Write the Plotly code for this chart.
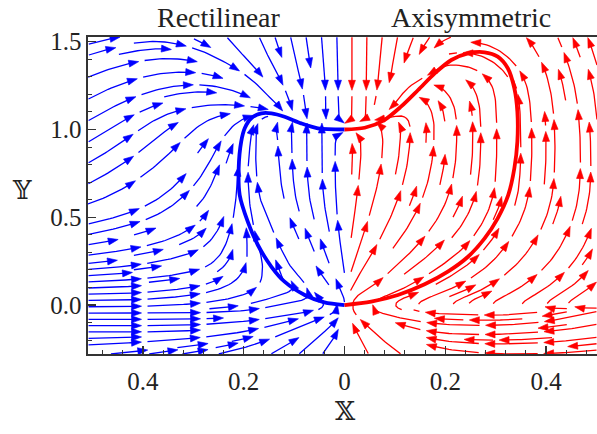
import math
from bisect import bisect_right
import numpy as np
import plotly.graph_objects as go

# ---------------- values ----------------
# |x| and y sample positions of the direction field
X_GRID = [0.0, 0.04, 0.1, 0.16, 0.22, 0.3, 0.4, 0.51]
Y_GRID = [-0.28, -0.15, -0.05, 0.05, 0.15, 0.3, 0.5, 0.7, 0.9, 1.0, 1.1, 1.2, 1.35, 1.53]

# drawn direction of the streamlines (degrees, counter-clockwise from "right"),
# one row per Y_GRID value, columns follow X_GRID (from the axis outwards)
RECT_ANGLES = [
    [80, 55, 40, 25, 15, 10, 8, 3],
    [75, 40, 25, 15, 8, 3, 0, 0],
    [60, 15, 8, 5, 2, 0, 0, 0],
    [110, 150, 10, 20, 15, 8, 3, 0],
    [100, 125, 135, 80, 40, 10, 5, 2],
    [95, 110, 120, 110, 75, 20, 10, 7],
    [92, 101, 110, 115, 80, 40, 20, 13],
    [90, 92, 95, 100, 85, 50, 35, 27],
    [90, 90, 90, 95, 70, 50, 38, 30],
    [0, 90, 90, 100, 50, 40, 35, 30],
    [-90, -90, -80, 0, 5, 12, 25, 30],
    [-90, -88, -75, -45, -15, 5, 20, 28],
    [-90, -85, -75, -55, -30, -5, 12, 21],
    [-90, -87, -80, -70, -55, -25, 5, 15],
]
AXI_ANGLES = [
    [95, 115, 140, 160, 172, 178, 182, 185],
    [95, 130, 155, 170, 178, 182, 185, 190],
    [100, 150, 170, 175, 178, 180, 190, 195],
    [75, 20, 20, 20, 20, 25, 30, 32],
    [80, 50, 35, 30, 30, 35, 40, 45],
    [85, 65, 50, 42, 40, 50, 55, 62],
    [90, 75, 65, 60, 60, 65, 70, 75],
    [90, 80, 75, 75, 78, 85, 85, 88],
    [90, 90, 85, 85, 88, 90, 90, 92],
    [180, 120, 90, 90, 90, 90, 92, 95],
    [-90, -90, -150, 110, 100, 92, 95, 95],
    [-90, -90, -110, 150, 120, 100, 100, 100],
    [-90, -90, -100, -125, 175, 140, 110, 105],
    [-90, -90, -100, -120, -165, 160, 115, 110],
]

# thick solution curves
RECT_CURVE_X = [0, -0.040, -0.079, -0.119, -0.145, -0.172, -0.192, -0.208, -0.210,
                -0.205, -0.198, -0.185, -0.165, -0.145, -0.119, -0.086, -0.053, 0]
RECT_CURVE_Y = [0, 0.015, 0.057, 0.133, 0.218, 0.342, 0.475, 0.627, 0.779,
                0.931, 1.007, 1.064, 1.092, 1.092, 1.073, 1.035, 1.007, 1.0]
AXI_CURVE_X = [0, 0.053, 0.106, 0.159, 0.205, 0.245, 0.278, 0.304, 0.325, 0.337, 0.343,
               0.343, 0.337, 0.324, 0.304, 0.278, 0.245, 0.212, 0.179, 0.146, 0.112,
               0.079, 0.040, 0]
AXI_CURVE_Y = [0, 0.019, 0.057, 0.118, 0.190, 0.275, 0.380, 0.494, 0.627, 0.779, 0.931,
               1.102, 1.235, 1.349, 1.415, 1.440, 1.434, 1.396, 1.320, 1.225, 1.130,
               1.054, 1.010, 1.0]

X_TICKS = [-0.4, -0.2, 0, 0.2, 0.4]
X_TICK_TEXT = ["0.4", "0.2", "0", "0.2", "0.4"]
Y_TICKS = [0, 0.5, 1.0, 1.5]
Y_TICK_TEXT = ["0.0", "0.5", "1.0", "1.5"]
PANEL_TITLES = ["Rectilinear", "Axisymmetric"]
X_LABEL = "𝕏"
Y_LABEL = "𝕐"

BLUE = "#0000ff"
RED = "#ff0000"

# ---------------- layout geometry (page margin removed by post_script) ----------------
W, H = 597, 434
ML, MT, MR, MB = 88, 37, 0, 80
PW, PH = W - ML - MR, H - MT - MB
X_RANGE = [-0.509, 0.501]
Y_RANGE = [-0.279, 1.527]

SX = PW / (X_RANGE[1] - X_RANGE[0])
SY = PH / (Y_RANGE[1] - Y_RANGE[0])


def to_px(x, y):
    return ML + (x - X_RANGE[0]) * SX, MT + (Y_RANGE[1] - y) * SY


def to_data(px, py):
    return X_RANGE[0] + (px - ML) / SX, Y_RANGE[1] - (py - MT) / SY


# ---------------- streamline machinery ----------------
STALL = 0.25
STEP = 1.0
MAXLEN = 1400
MINLEN = 18
CELL_W = 15.0
CELL_H_LOW = 6.3     # dense parallel band near the bottom
CELL_H_HIGH = 10.5   # upper region
BAND_TOP = 0.27      # y value where the dense band ends


def make_field(angles):
    U = [[math.cos(math.radians(a)) for a in row] for row in angles]
    V = [[math.sin(math.radians(a)) for a in row] for row in angles]
    nxg, nyg = len(X_GRID), len(Y_GRID)

    def f(px, py):
        x, y = to_data(px, py)
        ax = abs(x)
        i = bisect_right(X_GRID, ax) - 1
        i = 0 if i < 0 else (nxg - 2 if i > nxg - 2 else i)
        j = bisect_right(Y_GRID, y) - 1
        j = 0 if j < 0 else (nyg - 2 if j > nyg - 2 else j)
        tx = (ax - X_GRID[i]) / (X_GRID[i + 1] - X_GRID[i])
        ty = (y - Y_GRID[j]) / (Y_GRID[j + 1] - Y_GRID[j])
        tx = min(max(tx, 0.0), 1.0)
        ty = min(max(ty, 0.0), 1.0)
        a = (1 - tx) * (1 - ty)
        b = tx * (1 - ty)
        c = (1 - tx) * ty
        d = tx * ty
        u = a * U[j][i] + b * U[j][i + 1] + c * U[j + 1][i] + d * U[j + 1][i + 1]
        v = a * V[j][i] + b * V[j][i + 1] + c * V[j + 1][i] + d * V[j + 1][i + 1]
        m = math.hypot(u, v)
        if m < STALL:
            return None
        return u / m, -v / m

    return f


def spiral(nx, ny):
    xfirst, yfirst = 0, 1
    xlast, ylast = nx - 1, ny - 1
    x, y = 0, 0
    direction = "right"
    for _ in range(nx * ny):
        yield x, y
        if direction == "right":
            x += 1
            if x >= xlast:
                xlast -= 1
                direction = "up"
        elif direction == "up":
            y += 1
            if y >= ylast:
                ylast -= 1
                direction = "left"
        elif direction == "left":
            x -= 1
            if x <= xfirst:
                xfirst += 1
                direction = "down"
        else:
            y -= 1
            if y <= yfirst:
                yfirst += 1
                direction = "right"


def row_edges():
    bottom = MT + PH
    band_px = to_px(0, BAND_TOP)[1]
    edges = [bottom]
    y = bottom
    while y - CELL_H_LOW > band_px:
        y -= CELL_H_LOW
        edges.append(y)
    n_hi = max(1, int(round((y - MT) / CELL_H_HIGH)))
    step = (y - MT) / n_hi
    for _ in range(n_hi):
        y -= step
        edges.append(y)
    edges[-1] = MT
    return edges[::-1]  # increasing pixel y


def trace_half(field, x_lo, x_hi):
    y_lo, y_hi = MT, MT + PH
    nx = max(1, int(round((x_hi - x_lo) / CELL_W)))
    cw = (x_hi - x_lo) / nx
    redges = row_edges()
    ny = len(redges) - 1
    mask = [[0] * nx for _ in range(ny)]

    def cell(px, py):
        cj = bisect_right(redges, py) - 1
        cj = 0 if cj < 0 else (ny - 1 if cj > ny - 1 else cj)
        return min(max(int((px - x_lo) / cw), 0), nx - 1), cj

    def inside(px, py):
        return x_lo <= px <= x_hi and y_lo <= py <= y_hi

    lines = []
    for ci, cj in spiral(nx, ny):
        if not (0 <= ci < nx and 0 <= cj < ny) or mask[cj][ci]:
            continue
        px0 = x_lo + (ci + 0.5) * cw
        py0 = 0.5 * (redges[cj] + redges[cj + 1])
        if field(px0, py0) is None:
            continue
        marked = [(ci, cj)]
        mask[cj][ci] = 1
        parts = []
        for sgn in (-1, 1):
            cur = (ci, cj)
            px, py = px0, py0
            pts = [(px, py)]
            prev = None
            length = 0.0
            while length < MAXLEN:
                f1 = field(px, py)
                if f1 is None:
                    break
                if prev is not None and f1[0] * prev[0] + f1[1] * prev[1] < 0.5:
                    break
                mx, my = px + 0.5 * STEP * sgn * f1[0], py + 0.5 * STEP * sgn * f1[1]
                if not inside(mx, my):
                    break
                f2 = field(mx, my)
                if f2 is None:
                    break
                qx, qy = px + STEP * sgn * f2[0], py + STEP * sgn * f2[1]
                if not inside(qx, qy):
                    break
                c = cell(qx, qy)
                if c != cur:
                    if mask[c[1]][c[0]]:
                        break
                    mask[c[1]][c[0]] = 1
                    marked.append(c)
                    cur = c
                px, py = qx, qy
                pts.append((px, py))
                prev = f1
                length += STEP
            parts.append(pts)
        full = parts[0][::-1] + parts[1][1:]
        if (len(full) - 1) * STEP < MINLEN:
            for a, b in marked:
                mask[b][a] = 0
            continue
        lines.append(np.array(full))
    return lines


SEG = 53.0
GAP = 6.0
ARROW_L = 10.0
ARROW_W = 3.5


def dash_with_arrows(lines):
    lx, ly, ax, ay = [], [], [], []
    for pts in lines:
        d = np.hypot(np.diff(pts[:, 0]), np.diff(pts[:, 1]))
        s = np.concatenate([[0.0], np.cumsum(d)])
        total = s[-1]
        start = 0.0
        while start < total - 6:
            end = min(start + SEG, total)
            seg_len = end - start
            inner = s[(s > start) & (s < end)][::3]
            ss = np.concatenate([[start], inner, [end]])
            xs = np.interp(ss, s, pts[:, 0])
            ys = np.interp(ss, s, pts[:, 1])
            if seg_len >= 12:
                bx = np.interp(end - 4, s, pts[:, 0])
                by = np.interp(end - 4, s, pts[:, 1])
                tx, ty = xs[-1], ys[-1]
                dx, dy = tx - bx, ty - by
                n = math.hypot(dx, dy) or 1.0
                dx, dy = dx / n, dy / n
                cx, cy = tx - ARROW_L * dx, ty - ARROW_L * dy
                tri = [(tx, ty), (cx - ARROW_W * dy, cy + ARROW_W * dx),
                       (cx + ARROW_W * dy, cy - ARROW_W * dx), (tx, ty)]
                for qx, qy in tri:
                    X, Y = to_data(qx, qy)
                    ax.append(X)
                    ay.append(Y)
                ax.append(None)
                ay.append(None)
                keep = ss <= end - ARROW_L * 0.6
                xs = np.append(xs[keep], cx + 0.4 * ARROW_L * dx)
                ys = np.append(ys[keep], cy + 0.4 * ARROW_L * dy)
            for qx, qy in zip(xs, ys):
                X, Y = to_data(qx, qy)
                lx.append(X)
                ly.append(Y)
            lx.append(None)
            ly.append(None)
            start = end + GAP
    return lx, ly, ax, ay


axis_px = to_px(0, 0)[0]
left_px = to_px(X_RANGE[0], 0)[0]
right_px = to_px(X_RANGE[1], 0)[0]

rect_lines = trace_half(make_field(RECT_ANGLES), left_px, axis_px)
axi_lines = trace_half(make_field(AXI_ANGLES), axis_px, right_px)

fig = go.Figure()
for lines, col in ((rect_lines, BLUE), (axi_lines, RED)):
    lx, ly, ax, ay = dash_with_arrows(lines)
    fig.add_trace(go.Scatter(x=lx, y=ly, mode="lines", line=dict(color=col, width=1.3),
                             hoverinfo="skip", showlegend=False))
    fig.add_trace(go.Scatter(x=ax, y=ay, mode="lines", fill="toself", fillcolor=col,
                             line=dict(color=col, width=0.6), hoverinfo="skip", showlegend=False))

fig.add_trace(go.Scatter(x=RECT_CURVE_X, y=RECT_CURVE_Y, mode="lines",
                         line=dict(color=BLUE, width=3.8, shape="spline", smoothing=0.8),
                         hoverinfo="skip", showlegend=False))
fig.add_trace(go.Scatter(x=AXI_CURVE_X, y=AXI_CURVE_Y, mode="lines",
                         line=dict(color=RED, width=3.8, shape="spline", smoothing=0.8),
                         hoverinfo="skip", showlegend=False))

FONT = "Liberation Serif, Times New Roman, serif"
AX_COL = "#333333"

fig.update_xaxes(range=X_RANGE, tickvals=X_TICKS, ticktext=X_TICK_TEXT, ticks="inside",
                 ticklen=8, tickwidth=1.2, tickcolor=AX_COL, showline=True, linecolor=AX_COL,
                 linewidth=1.6, mirror=True, showgrid=False, zeroline=False,
                 minor=dict(dtick=0.04, tick0=0, ticks="inside", ticklen=4, tickcolor=AX_COL,
                            tickwidth=1, showgrid=False),
                 tickfont=dict(family=FONT, size=25, color="#222"), ticklabelstandoff=4)
fig.update_yaxes(range=Y_RANGE, tickvals=Y_TICKS, ticktext=Y_TICK_TEXT, ticks="inside",
                 ticklen=8, tickwidth=1.2, tickcolor=AX_COL, showline=True, linecolor=AX_COL,
                 linewidth=1.6, mirror=False, showgrid=False, zeroline=False,
                 minor=dict(dtick=0.1, tick0=0, ticks="inside", ticklen=4, tickcolor=AX_COL,
                            tickwidth=1, showgrid=False),
                 tickfont=dict(family=FONT, size=25, color="#222"), ticklabelstandoff=0)


def paper_xy(px, py):
    return (px - ML) / PW, (MT + PH - py) / PH


annotations = []
for title, cxp in zip(PANEL_TITLES, (218.5, 471.0)):
    xp, yp = paper_xy(cxp, 18)
    annotations.append(dict(text=title, x=xp, y=yp, xref="paper", yref="paper",
                            xanchor="center", yanchor="middle", showarrow=False,
                            font=dict(family=FONT, size=28, color="#222")))
xp, yp = paper_xy(345, 411)
annotations.append(dict(text=X_LABEL, x=xp, y=yp, xref="paper", yref="paper",
                        xanchor="center", yanchor="middle", showarrow=False,
                        font=dict(family="DejaVu Serif, DejaVu Sans", size=26, color="#222")))
xp, yp = paper_xy(22, 190)
annotations.append(dict(text=Y_LABEL, x=xp, y=yp, xref="paper", yref="paper",
                        xanchor="center", yanchor="middle", showarrow=False,
                        font=dict(family="DejaVu Serif, DejaVu Sans", size=26, color="#222")))

fig.update_layout(width=W, height=H, margin=dict(l=ML, r=MR, t=MT, b=MB, autoexpand=False),
                  plot_bgcolor="white", paper_bgcolor="white", showlegend=False,
                  annotations=annotations)

fig.write_html("out.html", config={"displayModeBar": False, "staticPlot": True},
               post_script="document.body.style.margin='0px';document.body.style.overflow='hidden';")
